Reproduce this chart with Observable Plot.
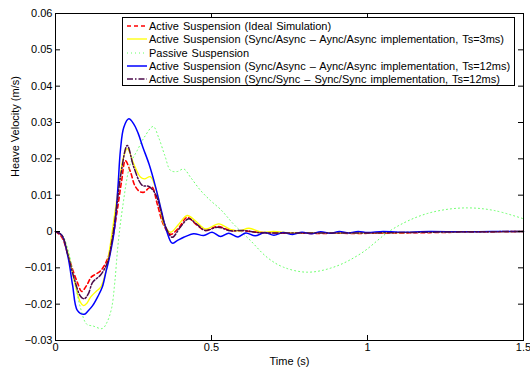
<!DOCTYPE html>
<html><head><meta charset="utf-8">
<script src="https://cdn.jsdelivr.net/npm/d3@7"></script>
<script src="https://cdn.jsdelivr.net/npm/@observablehq/plot@0.6"></script>
<style>
html,body{margin:0;padding:0;background:#fff;}
#wrap{position:relative;width:530px;height:371px;font-family:"Liberation Sans",Arial,Helvetica,sans-serif;}
#legend{position:absolute;left:122px;top:17px;width:393px;height:69px;border:1px solid #000;background:#fff;box-sizing:border-box;padding-top:1px;}
.row{height:13.45px;display:flex;align-items:center;font-size:11px;word-spacing:1px;white-space:nowrap;color:#000;}
.row svg{margin-left:4px;margin-right:2px;flex:none;}
</style></head>
<body><div id="wrap"></div>
<script>
// ---- data ----
const xTicks = [0, 0.5, 1, 1.5];
const xTickLabels = ["0", "0.5", "1", "1.5"];
const yTicks = [-0.03, -0.02, -0.01, 0, 0.01, 0.02, 0.03, 0.04, 0.05, 0.06];
const yTickLabels = ["\u22120.03", "\u22120.02", "\u22120.01", "0", "0.01", "0.02", "0.03", "0.04", "0.05", "0.06"];
const xLabel = "Time (s)";
const yLabel = "Heave Velocity (m/s)";
const seriesNames = [
  "Active Suspension (Ideal Simulation)",
  "Active Suspension (Sync/Async \u2013 Aync/Async implementation, Ts=3ms)",
  "Passive Suspension",
  "Active Suspension (Sync/Async \u2013 Aync/Async implementation, Ts=12ms)",
  "Active Suspension (Sync/Sync \u2013 Sync/Sync implementation, Ts=12ms)"
];

const tRed = [0,0.02,0.04,0.055,0.07,0.084,0.1,0.115,0.13,0.145,0.167,0.183,0.2,0.212,0.224,0.24,0.255,0.27,0.283,0.3,0.31,0.326,0.347,0.369,0.395,0.422,0.45,0.48,0.52,0.56,0.6,0.65,0.7,0.8,0.9,1.0,1.1,1.2,1.3,1.4,1.5];
const vRed = [0,-0.0015,-0.0065,-0.0105,-0.014,-0.0165,-0.0148,-0.0125,-0.0117,-0.0108,-0.0075,-0.002,0.007,0.014,0.0195,0.0165,0.0125,0.011,0.0108,0.012,0.0122,0.0076,0.0017,-0.0008,0.001,0.0039,0.002,0.0003,0.0014,0.0003,0.0002,-0.0002,-0.0004,-0.0005,-0.0005,-0.0005,-0.0004,-0.0003,-0.0002,-0.0001,0];

const tYellow = [0,0.02,0.04,0.06,0.08,0.09,0.1,0.113,0.13,0.145,0.16,0.175,0.19,0.205,0.218,0.23,0.251,0.272,0.285,0.304,0.32,0.331,0.347,0.369,0.395,0.422,0.45,0.481,0.523,0.56,0.59,0.62,0.66,0.7,0.75,0.8,0.9,1.0,1.1,1.2,1.3,1.5];
const vYellow = [0,-0.001,-0.006,-0.0135,-0.0195,-0.0204,-0.0198,-0.018,-0.0165,-0.0153,-0.0115,-0.004,0.005,0.014,0.0205,0.0228,0.0186,0.015,0.0145,0.0151,0.0122,0.009,0.0021,-0.0002,0.002,0.0044,0.0028,0.0007,0.0021,0.0006,0.0002,0.0009,-0.0002,0,-0.0004,-0.0003,-0.0004,-0.0004,-0.0003,-0.0002,-0.0001,0];

const tGreen = [0,0.02,0.04,0.06,0.08,0.1,0.12,0.15,0.165,0.18,0.19,0.2,0.214,0.24,0.262,0.285,0.313,0.33,0.35,0.369,0.39,0.411,0.433,0.465,0.497,0.53,0.57,0.625,0.678,0.73,0.807,0.892,0.978,1.074,1.159,1.234,1.32,1.405,1.5];
const vGreen = [0,-0.0008,-0.005,-0.013,-0.021,-0.0255,-0.026,-0.0267,-0.025,-0.021,-0.014,-0.004,0.006,0.0186,0.0223,0.026,0.0289,0.026,0.021,0.0168,0.0165,0.0172,0.0149,0.0113,0.0085,0.006,0.0021,-0.0025,-0.0071,-0.0098,-0.0112,-0.0098,-0.0061,0.0003,0.004,0.0058,0.0065,0.0058,0.0035];

const tBlue = [0,0.02,0.04,0.055,0.07,0.092,0.105,0.119,0.135,0.15,0.162,0.172,0.188,0.2,0.208,0.219,0.235,0.25,0.265,0.28,0.3,0.32,0.34,0.355,0.374,0.39,0.411,0.443,0.475,0.502,0.529,0.555,0.585,0.61,0.64,0.67,0.7,0.73,0.76,0.79,0.82,0.85,0.88,0.91,0.94,0.97,1.0,1.05,1.1,1.2,1.3,1.4,1.5];
const vBlue = [0,-0.001,-0.007,-0.0149,-0.0217,-0.0228,-0.0218,-0.0204,-0.018,-0.0153,-0.011,-0.0075,0,0.012,0.0223,0.0287,0.031,0.0297,0.027,0.0232,0.0185,0.0125,0.0055,0.0005,-0.0032,-0.0025,-0.0016,-0.0006,-0.0011,-0.0002,-0.0014,-0.0005,-0.0015,-0.0004,-0.0012,-0.0003,-0.001,-0.0003,-0.0008,-0.0002,-0.0006,-0.0001,-0.0005,0,-0.0004,0,-0.0003,0,-0.0002,0,-0.0001,0,0];

const tPurple = [0,0.02,0.04,0.06,0.08,0.092,0.105,0.119,0.145,0.167,0.18,0.195,0.21,0.23,0.251,0.278,0.299,0.32,0.335,0.35,0.374,0.4,0.427,0.45,0.48,0.52,0.56,0.6,0.65,0.7,0.8,0.9,1.0,1.1,1.2,1.3,1.5];
const vPurple = [0,-0.001,-0.0065,-0.013,-0.0178,-0.0185,-0.0172,-0.014,-0.0119,-0.0084,-0.003,0.006,0.016,0.0237,0.0177,0.0127,0.0124,0.0104,0.0065,0.002,-0.0016,0.0012,0.0035,0.0022,0.0003,0.0012,0.0002,0.0003,-0.0003,-0.0004,-0.0004,-0.0004,-0.0004,-0.0003,-0.0002,-0.0001,0];

// ---- styles ----
const styles = [
  {stroke:"#ff0000", strokeWidth:1.6, dash:"4,3"},
  {stroke:"#ffff00", strokeWidth:1.3, dash:null},
  {stroke:"#66ff66", strokeWidth:1, dash:"1,3"},
  {stroke:"#0000ff", strokeWidth:1.5, dash:null},
  {stroke:"#4a0a4a", strokeWidth:1.5, dash:"6,2,1.5,2"}
];
const mk = (t, v) => t.map((d, i) => ({t: d, v: v[i]}));
const series = [mk(tRed, vRed), mk(tYellow, vYellow), mk(tGreen, vGreen), mk(tBlue, vBlue), mk(tPurple, vPurple)];

const W = 530, H = 371, mL = 55, mR = 7, mT = 13, mB = 31;
const iw = W - mL - mR, ih = H - mT - mB, tk = 5;
const font = '"Liberation Sans", Arial, Helvetica, sans-serif';

const chart = Plot.plot({
  width: W, height: H,
  marginLeft: mL, marginRight: mR, marginTop: mT, marginBottom: mB,
  style: {fontFamily: font, fontSize: "11px", background: "white", color: "black"},
  x: {domain: [0, 1.5]},
  y: {domain: [-0.03, 0.06]},
  marks: [
    Plot.axisX(xTicks, {tickSize: 0, tickPadding: 3, fontSize: 11, tickFormat: d => xTickLabels[xTicks.indexOf(d)], label: null, fill: "black"}),
    Plot.axisY(yTicks, {tickSize: 0, tickPadding: 3, fontSize: 11, tickFormat: d => yTickLabels[yTicks.indexOf(d)], label: null, fill: "black"}),
    ...series.map((s, i) => Plot.line(s, {x: "t", y: "v", stroke: styles[i].stroke, strokeWidth: styles[i].strokeWidth, strokeDasharray: styles[i].dash, curve: "catmull-rom"})),
    Plot.tickX(xTicks, {x: d => d, insetTop: ih - tk, stroke: "black"}),
    Plot.tickX(xTicks, {x: d => d, insetBottom: ih - tk, stroke: "black"}),
    Plot.tickY(yTicks, {y: d => d, insetRight: iw - tk, stroke: "black"}),
    Plot.tickY(yTicks, {y: d => d, insetLeft: iw - tk, stroke: "black"}),
    Plot.frame({stroke: "black", strokeWidth: 1}),
    Plot.text([xLabel], {frameAnchor: "bottom", dy: 21, lineAnchor: "middle", fill: "black", fontSize: 11}),
    Plot.text([yLabel], {frameAnchor: "left", dx: -40, rotate: -90, lineAnchor: "middle", fill: "black", fontSize: 11})
  ]
});

const wrap = document.getElementById("wrap");
wrap.appendChild(chart);

// legend (inside the axes box, top right)
const legend = document.createElement("div");
legend.id = "legend";
seriesNames.forEach((name, i) => {
  const row = document.createElement("div");
  row.className = "row";
  const st = styles[i];
  row.innerHTML = `<svg width="20" height="6"><line x1="0" y1="3" x2="20" y2="3" stroke="${st.stroke}" stroke-width="${st.strokeWidth}" ${st.dash ? `stroke-dasharray="${st.dash}"` : ""}/></svg><span>${name}</span>`;
  legend.appendChild(row);
});
wrap.appendChild(legend);
</script>
</body></html>
